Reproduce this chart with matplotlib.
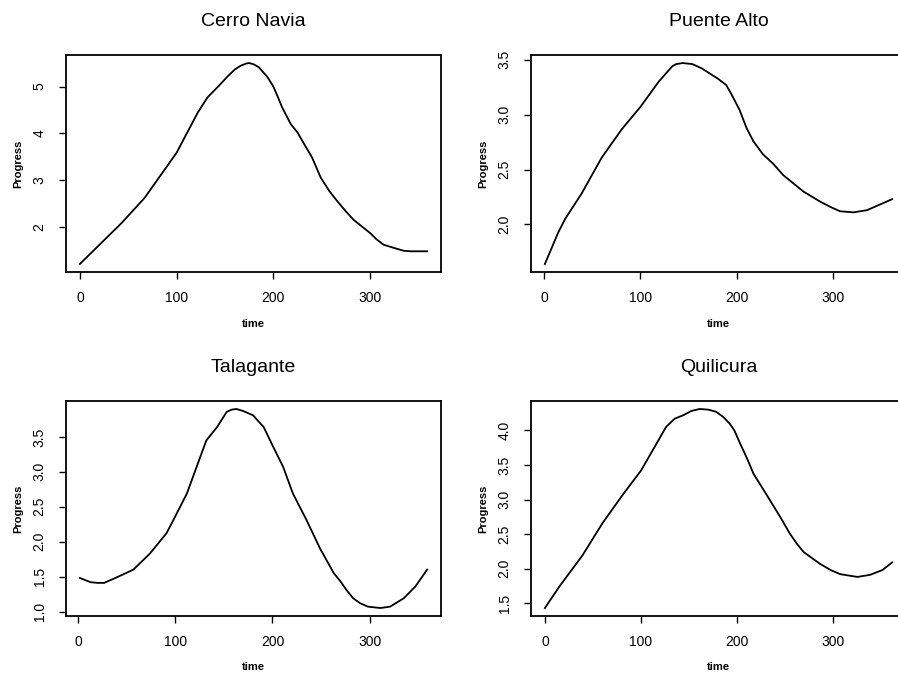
import matplotlib
matplotlib.use("Agg")
import matplotlib.pyplot as plt

plt.rcParams['font.family'] = ['Liberation Sans', 'DejaVu Sans']

titles = ["Cerro Navia", "Puente Alto", "Talagante", "Quilicura"]

cerro_t = [0, 43, 67, 100, 122, 132, 143, 152, 160, 166, 172, 175, 180, 185,
           194, 200, 204, 209, 218, 225, 232, 240, 249, 258, 266, 275, 283,
           300, 307, 314, 325, 335, 342, 359]
cerro_y = [1.22, 2.09, 2.63, 3.59, 4.45, 4.77, 5.00, 5.20, 5.36, 5.44, 5.49,
           5.50, 5.47, 5.41, 5.20, 5.00, 4.81, 4.56, 4.20, 4.02, 3.77, 3.49,
           3.06, 2.77, 2.56, 2.34, 2.16, 1.88, 1.74, 1.63, 1.56, 1.50, 1.49,
           1.49]

puente_t = [1, 15, 22, 39, 60, 81, 100, 119, 133, 137, 144, 154, 164, 171,
            180, 189, 196, 203, 210, 217, 227, 238, 248, 269, 286, 297, 307,
            321, 335, 348, 361]
puente_y = [1.64, 1.93, 2.05, 2.28, 2.61, 2.87, 3.07, 3.30, 3.44, 3.46, 3.47,
            3.46, 3.42, 3.38, 3.33, 3.27, 3.16, 3.04, 2.88, 2.76, 2.64, 2.55,
            2.45, 2.30, 2.21, 2.16, 2.12, 2.11, 2.13, 2.18, 2.23]

talag_t = [2, 13, 20, 27, 40, 57, 74, 91, 100, 112, 122, 132, 143, 153, 158,
           163, 170, 180, 191, 200, 211, 221, 235, 249, 263, 270, 276, 283,
           290, 298, 311, 321, 335, 347, 359]
talag_y = [1.48, 1.42, 1.41, 1.41, 1.49, 1.60, 1.83, 2.12, 2.36, 2.69, 3.07,
           3.45, 3.64, 3.86, 3.89, 3.90, 3.87, 3.81, 3.64, 3.38, 3.07, 2.69,
           2.31, 1.90, 1.55, 1.43, 1.31, 1.19, 1.12, 1.07, 1.05, 1.07, 1.19,
           1.36, 1.60]

quili_t = [0, 15, 39, 60, 81, 100, 112, 119, 126, 135, 144, 152, 161, 170,
           178, 185, 192, 197, 203, 210, 217, 226, 234, 245, 255, 262, 269,
           278, 286, 297, 307, 325, 338, 351, 361]
quili_y = [1.43, 1.74, 2.19, 2.66, 3.07, 3.42, 3.71, 3.88, 4.05, 4.17, 4.22,
           4.28, 4.31, 4.30, 4.27, 4.20, 4.10, 4.00, 3.81, 3.60, 3.37, 3.17,
           2.99, 2.74, 2.50, 2.36, 2.24, 2.15, 2.07, 1.98, 1.92, 1.88, 1.91,
           1.98, 2.09]

x_ticks = [0, 100, 200, 300]
y_ticks = [[2, 3, 4, 5],
           [2.0, 2.5, 3.0, 3.5],
           [1.0, 1.5, 2.0, 2.5, 3.0, 3.5],
           [1.5, 2.0, 2.5, 3.0, 3.5, 4.0]]
y_labels = [["2", "3", "4", "5"],
            ["2.0", "2.5", "3.0", "3.5"],
            ["1.0", "1.5", "2.0", "2.5", "3.0", "3.5"],
            ["1.5", "2.0", "2.5", "3.0", "3.5", "4.0"]]

series = [(cerro_t, cerro_y), (puente_t, puente_y),
          (talag_t, talag_y), (quili_t, quili_y)]

fig = plt.figure(figsize=(8.98, 6.79), dpi=100)
boxes = [[0.0735, 0.5994, 0.4176, 0.3196],
         [0.5913, 0.5994, 0.4176, 0.3196],
         [0.0735, 0.0928, 0.4176, 0.3166],
         [0.5913, 0.0928, 0.4176, 0.3166]]

for i in range(4):
    ax = fig.add_axes(boxes[i])
    t, y = series[i]
    ax.plot(t, y, color='black', lw=1.3)
    ax.margins(x=0.04, y=0.04)
    ax.set_xticks(x_ticks)
    ax.set_yticks(y_ticks[i])
    ax.set_yticklabels(y_labels[i], rotation=90, va='center')
    ax.tick_params(direction='out', length=5, width=1, pad=9,
                   labelsize=10, colors='black')
    for s in ax.spines.values():
        s.set_linewidth(1.3)
    ax.set_title(titles[i], fontsize=14, pad=21)
    ax.set_xlabel("time", fontsize=8, fontweight='bold')
    ax.set_ylabel("Progress", fontsize=8, fontweight='bold')
    ax.xaxis.set_label_coords(0.5, -0.215)
    ax.yaxis.set_label_coords(-0.115, 0.5)

fig.savefig("out.png", dpi=100)
